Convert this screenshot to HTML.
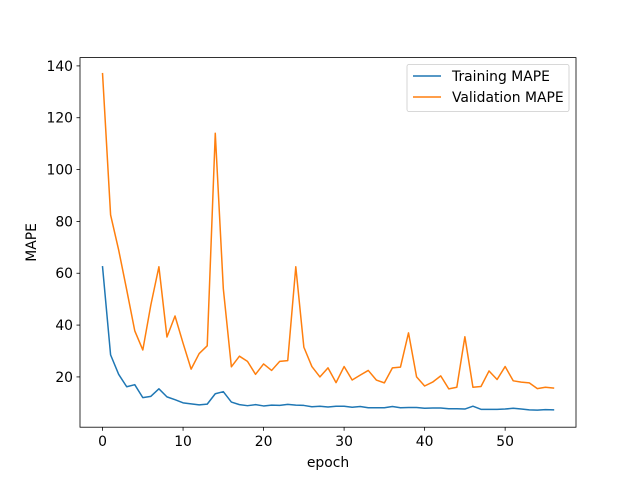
<!DOCTYPE html>
<html><head><meta charset="utf-8"><style>
body{margin:0;background:#fff;}
svg text{font-family:"DejaVu Sans","Liberation Sans",sans-serif;font-size:13.9px;fill:#000;}
</style></head><body>
<svg id="chart" width="640" height="480" xmlns="http://www.w3.org/2000/svg"></svg>
<script>
const epochs = Array.from({length:57},(_,i)=>i);
const trainMAPE = [62.5,28.5,21,16.2,17,12,12.5,15.4,12.3,11.2,10,9.6,9.2,9.5,13.5,14.3,10.3,9.3,8.9,9.3,8.8,9.1,9,9.4,9.1,9,8.5,8.7,8.4,8.7,8.7,8.3,8.6,8.1,8.1,8.1,8.6,8.1,8.2,8.2,7.9,8,8,7.7,7.7,7.6,8.7,7.5,7.5,7.5,7.6,7.9,7.6,7.3,7.2,7.4,7.3];
const valMAPE = [137,82.5,69,53.6,37.8,30.4,47.8,62.5,35.4,43.5,33,23,29,32,114,54,23.9,28,26,21,25,22.5,26,26.3,62.5,31.5,24,20,23.5,17.8,24,18.8,20.7,22.5,18.8,17.7,23.5,23.8,37,20,16.5,18,20.4,15.4,16,35.5,16,16.3,22.3,19,24,18.5,18,17.7,15.5,16,15.7];
const xTicks = [0,10,20,30,40,50];
const yTicks = [20,40,60,80,100,120,140];

const L=80,R=576,T=57.6,B=427.2;
const xMin=-2.8,xMax=58.8,yMin=0.6,yMax=143.2;
const sx=v=>L+(v-xMin)/(xMax-xMin)*(R-L);
const sy=v=>B-(v-yMin)/(yMax-yMin)*(B-T);
const svg=document.getElementById('chart');
const NS='http://www.w3.org/2000/svg';
function mk(tag,attrs,parent){const e=document.createElementNS(NS,tag);for(const k in attrs)e.setAttribute(k,attrs[k]);(parent||svg).appendChild(e);return e;}

function series(data,color,name){
  const p=mk('polyline',{points:data.map((v,i)=>sx(epochs[i])+','+sy(v)).join(' '),fill:'none',stroke:color,'stroke-width':1.5,'stroke-linejoin':'round','stroke-linecap':'square'});
  
  
}
series(trainMAPE,'#1f77b4','training-mape-line');
series(valMAPE,'#ff7f0e','validation-mape-line');

const frame=mk('rect',{x:L,y:T,width:R-L,height:B-T,fill:'none',stroke:'#000','stroke-width':0.8});



xTicks.forEach(t=>{
  mk('line',{x1:sx(t),x2:sx(t),y1:B,y2:B+3.5,stroke:'#000','stroke-width':0.8});
  const tx=mk('text',{x:sx(t),y:B+19,'text-anchor':'middle'});tx.textContent=t;
  
  
});
yTicks.forEach(t=>{
  mk('line',{x1:L-3.5,x2:L,y1:sy(t),y2:sy(t),stroke:'#000','stroke-width':0.8});
  const tx=mk('text',{x:L-7,y:sy(t)+5,'text-anchor':'end'});tx.textContent=t;
  
  
});
const xl=mk('text',{x:(L+R)/2,y:467,'text-anchor':'middle'});xl.textContent='epoch';


const yl=mk('text',{x:0,y:0,'text-anchor':'middle',transform:'translate(36,'+((T+B)/2)+') rotate(-90)'});yl.textContent='MAPE';



const lg=mk('g',{});


mk('rect',{x:407,y:64.5,width:162,height:47,rx:2,fill:'#fff','fill-opacity':0.8,stroke:'#ccc','stroke-width':0.8},lg);
[['Training MAPE','#1f77b4'],['Validation MAPE','#ff7f0e']].forEach((d,i)=>{
  const y=76+i*21;
  const g=mk('g',{},lg);
  
  
  mk('line',{x1:413,x2:441,y1:y,y2:y,stroke:d[1],'stroke-width':1.5},g);
  const t=mk('text',{x:452,y:y+5},g);t.textContent=d[0];
});
</script>
</body></html>
